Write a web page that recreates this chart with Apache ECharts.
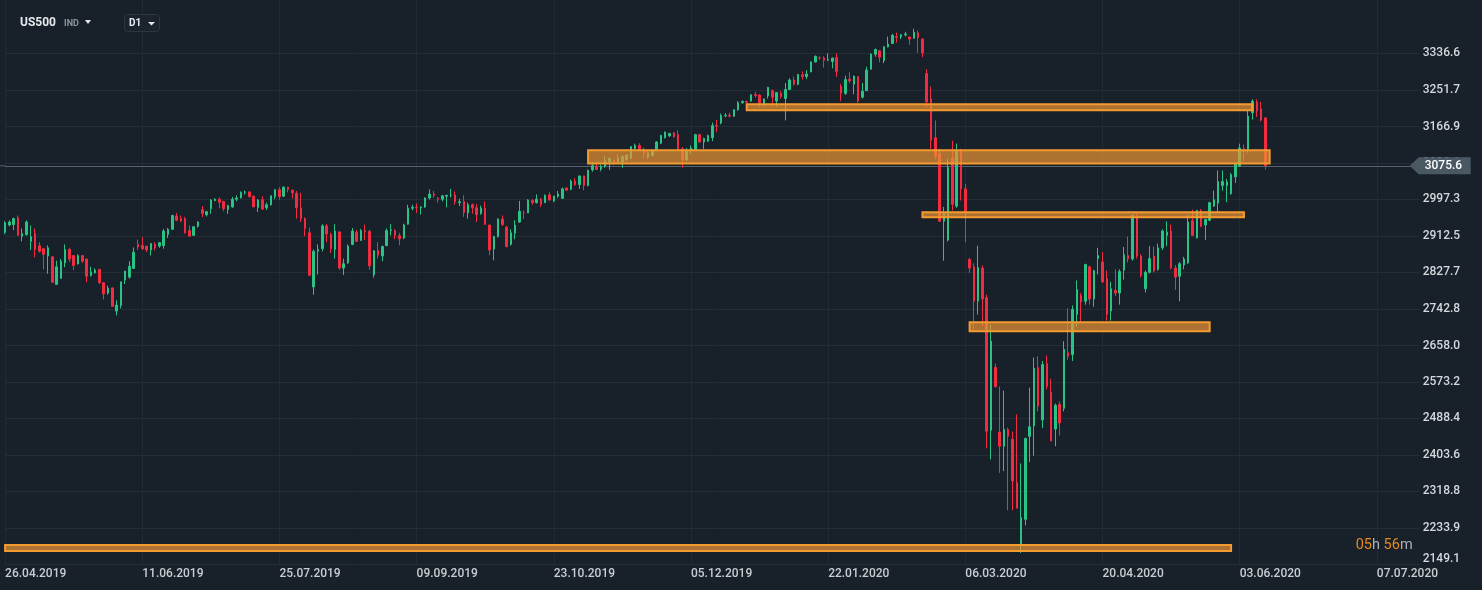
<!DOCTYPE html>
<html><head><meta charset="utf-8">
<script src="https://cdn.jsdelivr.net/npm/echarts@6/dist/echarts.min.js"></script>
<style>html,body{margin:0;padding:0;background:#18212a;}#c{width:1482px;height:590px;}</style>
</head><body><div id="c"></div>
<script>
// [date, open, close, low, high]
const bars = [
['26.04.2019',2921,2943,2917,2947],['29.04.2019',2938,2945,2935,2949],['30.04.2019',2939,2953,2926,2955],
['01.05.2019',2955,2914,2914,2960],['02.05.2019',2912,2918,2900,2930],['03.05.2019',2916,2945,2913,2949],
['06.05.2019',2900,2911,2880,2937],['07.05.2019',2918,2881,2863,2930],['08.05.2019',2890,2877,2874,2898],
['09.05.2019',2883,2870,2835,2883],['10.05.2019',2866,2885,2825,2891],['13.05.2019',2864,2805,2803,2866],
['14.05.2019',2800,2841,2800,2855],['15.05.2019',2814,2854,2814,2859],['16.05.2019',2850,2881,2840,2893],
['17.05.2019',2881,2859,2852,2885],['20.05.2019',2867,2844,2833,2867],['21.05.2019',2848,2867,2846,2870],
['22.05.2019',2867,2854,2850,2867],['23.05.2019',2859,2819,2805,2859],['24.05.2019',2821,2829,2818,2841],
['27.05.2019',2827,2833,2825,2837],['28.05.2019',2835,2804,2801,2835],['29.05.2019',2804,2778,2765,2804],
['30.05.2019',2780,2791,2776,2797],['31.05.2019',2792,2749,2749,2792],['03.06.2019',2738,2752,2728,2763],
['04.06.2019',2751,2806,2744,2806],['05.06.2019',2810,2831,2801,2831],['06.06.2019',2817,2842,2813,2854],
['07.06.2019',2837,2875,2837,2886],['10.06.2019',2893,2887,2880,2904],['11.06.2019',2890,2883,2880,2910],
['12.06.2019',2889,2880,2875,2889],['13.06.2019',2880,2895,2867,2895],['14.06.2019',2893,2885,2879,2898],
['17.06.2019',2889,2897,2885,2898],['18.06.2019',2890,2924,2883,2929],['19.06.2019',2916,2928,2908,2931],
['20.06.2019',2928,2960,2928,2962],['21.06.2019',2959,2949,2947,2966],['24.06.2019',2953,2947,2945,2960],
['25.06.2019',2953,2920,2918,2957],['26.06.2019',2925,2912,2912,2937],['27.06.2019',2914,2934,2913,2934],
['28.06.2019',2935,2945,2932,2947],['01.07.2019',2974,2965,2956,2982],['02.07.2019',2962,2969,2958,2971],
['03.07.2019',2976,2996,2964,2998],['04.07.2019',2995,2998,2993,3000],['05.07.2019',2998,2991,2977,3002],
['08.07.2019',2993,2976,2970,2993],['09.07.2019',2974,2983,2964,2985],['10.07.2019',2980,2998,2978,3003],
['11.07.2019',2998,3001,2993,3007],['12.07.2019',3001,3014,3000,3016],['15.07.2019',3014,3015,3009,3018],
['16.07.2019',3015,3004,3002,3016],['17.07.2019',3005,2980,2980,3006],['18.07.2019',2979,2996,2968,2998],
['19.07.2019',2997,2975,2973,3005],['22.07.2019',2978,2985,2973,2990],['23.07.2019',2985,3006,2983,3006],
['24.07.2019',3004,3020,2998,3021],['25.07.2019',3020,3004,2997,3026],['26.07.2019',3005,3026,3003,3028],
['29.07.2019',3026,3021,3014,3027],['30.07.2019',3019,3013,3000,3020],['31.07.2019',3012,2978,2953,3017],
['01.08.2019',2978,2953,2945,3013],['02.08.2019',2953,2930,2912,2956],['05.08.2019',2920,2821,2820,2932],
['06.08.2019',2794,2877,2776,2881],['07.08.2019',2877,2881,2823,2893],['08.08.2019',2883,2936,2877,2940],
['09.08.2019',2936,2917,2898,2940],['12.08.2019',2916,2883,2873,2920],['13.08.2019',2881,2924,2860,2940],
['14.08.2019',2922,2838,2834,2923],['15.08.2019',2838,2848,2822,2860],['16.08.2019',2850,2889,2848,2893],
['19.08.2019',2893,2924,2891,2931],['20.08.2019',2921,2900,2899,2927],['21.08.2019',2902,2925,2902,2929],
['22.08.2019',2925,2922,2903,2939],['23.08.2019',2923,2843,2834,2927],['26.08.2019',2822,2878,2816,2880],
['27.08.2019',2879,2868,2860,2898],['28.08.2019',2866,2888,2854,2890],['29.08.2019',2890,2925,2889,2930],
['30.08.2019',2925,2927,2914,2940],['02.09.2019',2925,2914,2905,2928],['03.09.2019',2913,2906,2891,2920],
['04.09.2019',2908,2938,2905,2941],['05.09.2019',2940,2977,2939,2985],['06.09.2019',2977,2979,2972,2985],
['09.09.2019',2979,2978,2966,2988],['10.09.2019',2978,2980,2962,2982],['11.09.2019',2980,3001,2978,3002],
['12.09.2019',3001,3010,2997,3021],['13.09.2019',3010,3007,3001,3017],['16.09.2019',3000,2998,2990,3003],
['17.09.2019',2998,3006,2993,3007],['18.09.2019',3005,3007,2979,3008],['19.09.2019',3007,3007,3002,3022],
['20.09.2019',3008,2992,2985,3016],['23.09.2019',2990,2992,2982,2999],['24.09.2019',2993,2967,2957,3007],
['25.09.2019',2966,2985,2953,2990],['26.09.2019',2985,2978,2964,2988],['27.09.2019',2978,2962,2945,2987],
['30.09.2019',2965,2977,2962,2983],['01.10.2019',2977,2940,2938,2993],['02.10.2019',2938,2880,2868,2938],
['03.10.2019',2882,2911,2856,2913],['04.10.2019',2911,2952,2909,2953],['07.10.2019',2952,2939,2936,2960],
['08.10.2019',2933,2888,2886,2936],['09.10.2019',2893,2920,2890,2928],['10.10.2019',2919,2938,2905,2949],
['11.10.2019',2945,2970,2943,2994],['14.10.2019',2966,2966,2952,2972],['15.10.2019',2966,2996,2966,2998],
['16.10.2019',2995,2990,2985,2998],['17.10.2019',2990,2998,2988,3009],['18.10.2019',2998,2986,2980,3001],
['21.10.2019',2990,3007,2989,3009],['22.10.2019',3008,2996,2995,3014],['23.10.2019',2994,3005,2991,3006],
['24.10.2019',3005,3010,3001,3017],['25.10.2019',3000,3022,2999,3025],['27.10.2019',3024,3019,3017,3026],
['28.10.2019',3021,3040,3019,3044],['29.10.2019',3040,3032,3029,3047],['30.10.2019',3032,3052,3022,3053],
['31.10.2019',3052,3030,3019,3053],['01.11.2019',3030,3065,3028,3067],['04.11.2019',3066,3076,3062,3084],
['05.11.2019',3075,3067,3066,3084],['06.11.2019',3068,3073,3063,3078],['07.11.2019',3075,3088,3071,3098],
['08.11.2019',3085,3093,3066,3093],['11.11.2019',3089,3084,3077,3089],['12.11.2019',3084,3093,3082,3102],
['13.11.2019',3085,3097,3071,3100],['14.11.2019',3090,3100,3087,3102],['15.11.2019',3093,3120,3092,3121],
['18.11.2019',3116,3123,3113,3127],['19.11.2019',3123,3114,3112,3128],['20.11.2019',3114,3104,3092,3118],
['21.11.2019',3096,3106,3092,3111],['22.11.2019',3100,3111,3098,3113],['25.11.2019',3114,3131,3112,3133],
['26.11.2019',3128,3146,3126,3148],['27.11.2019',3141,3154,3139,3155],['28.11.2019',3145,3151,3143,3151],
['29.11.2019',3152,3143,3141,3154],['02.12.2019',3148,3114,3112,3158],['03.12.2019',3115,3089,3071,3119],
['04.12.2019',3090,3111,3086,3117],['05.12.2019',3112,3117,3103,3123],['06.12.2019',3114,3148,3113,3150],
['09.12.2019',3148,3131,3129,3150],['10.12.2019',3131,3139,3115,3141],['11.12.2019',3133,3146,3131,3148],
['12.12.2019',3141,3169,3133,3176],['13.12.2019',3169,3168,3154,3182],['16.12.2019',3175,3192,3172,3197],
['17.12.2019',3192,3193,3188,3198],['18.12.2019',3193,3191,3188,3199],['19.12.2019',3191,3206,3189,3207],
['20.12.2019',3206,3222,3203,3226],['23.12.2019',3222,3225,3220,3228],['24.12.2019',3225,3223,3221,3227],
['26.12.2019',3226,3241,3225,3241],['27.12.2019',3241,3239,3234,3248],['30.12.2019',3240,3221,3212,3242],
['31.12.2019',3218,3231,3213,3232],['02.01.2020',3238,3258,3232,3259],['03.01.2020',3250,3235,3212,3253],
['06.01.2020',3226,3246,3213,3247],['07.01.2020',3244,3237,3232,3249],['08.01.2020',3232,3253,3181,3268],
['09.01.2020',3253,3275,3252,3279],['10.01.2020',3275,3265,3262,3283],['13.01.2020',3265,3288,3263,3289],
['14.01.2020',3287,3283,3276,3295],['15.01.2020',3283,3289,3277,3298],['16.01.2020',3294,3317,3293,3318],
['17.01.2020',3317,3330,3316,3332],['20.01.2020',3326,3326,3322,3330],['21.01.2020',3326,3321,3304,3330],
['22.01.2020',3321,3322,3319,3337],['23.01.2020',3318,3326,3302,3327],['24.01.2020',3327,3295,3282,3337],
['27.01.2020',3260,3244,3226,3266],['28.01.2020',3244,3276,3240,3285],['29.01.2020',3277,3273,3268,3293],
['30.01.2020',3265,3284,3242,3285],['31.01.2020',3283,3226,3222,3283],['03.02.2020',3235,3249,3232,3268],
['04.02.2020',3250,3298,3250,3306],['05.02.2020',3300,3335,3300,3337],['06.02.2020',3335,3346,3329,3348],
['07.02.2020',3343,3328,3316,3344],['10.02.2020',3320,3352,3314,3353],['11.02.2020',3352,3358,3351,3376],
['12.02.2020',3360,3379,3359,3382],['13.02.2020',3376,3374,3362,3385],['14.02.2020',3375,3380,3370,3382],
['17.02.2020',3380,3382,3376,3387],['18.02.2020',3375,3370,3357,3375],['19.02.2020',3372,3386,3371,3394],
['20.02.2020',3385,3373,3338,3390],['21.02.2020',3370,3338,3328,3372],['24.02.2020',3290,3224,3212,3300],
['25.02.2020',3231,3135,3115,3260],['26.02.2020',3141,3098,3090,3181],['27.02.2020',3104,2947,2945,3115],
['28.02.2020',2947,2965,2855,2980],['02.03.2020',2903,3072,2900,3093],['03.03.2020',3094,2986,2972,3134],
['04.03.2020',2982,3112,2978,3127],['05.03.2020',3112,3022,2995,3115],['06.03.2020',3022,2966,2898,3034],
['08.03.2020',2858,2838,2827,2862],['09.03.2020',2841,2761,2695,2849],['10.03.2020',2761,2839,2730,2890],
['11.03.2020',2838,2766,2703,2844],['12.03.2020',2769,2459,2419,2776],['13.03.2020',2461,2668,2393,2707],
['15.03.2020',2607,2563,2560,2616],['16.03.2020',2457,2424,2362,2563],['17.03.2020',2424,2463,2366,2553],
['18.03.2020',2463,2447,2275,2467],['19.03.2020',2440,2343,2275,2458],['20.03.2020',2339,2280,2280,2498],
['23.03.2020',2196,2258,2176,2384],['24.03.2020',2254,2442,2240,2444],['25.03.2020',2447,2469,2387,2560],
['26.03.2020',2471,2605,2402,2630],['27.03.2020',2607,2517,2505,2633],['30.03.2020',2485,2614,2466,2622],
['31.03.2020',2616,2563,2556,2635],['01.04.2020',2549,2436,2436,2581],['02.04.2020',2464,2519,2424,2523],
['03.04.2020',2521,2478,2449,2528],['06.04.2020',2512,2649,2505,2668],['07.04.2020',2641,2633,2625,2745],
['08.04.2020',2637,2742,2622,2751],['09.04.2020',2730,2788,2701,2809],['13.04.2020',2774,2759,2712,2780],
['14.04.2020',2761,2846,2753,2848],['15.04.2020',2841,2766,2753,2843],['16.04.2020',2766,2832,2748,2834],
['17.04.2020',2860,2867,2823,2885],['20.04.2020',2852,2806,2803,2875],['21.04.2020',2814,2730,2716,2832],
['22.04.2020',2738,2790,2716,2806],['23.04.2020',2786,2780,2773,2835],['24.04.2020',2780,2830,2753,2835],
['27.04.2020',2833,2869,2811,2887],['28.04.2020',2867,2859,2851,2911],['29.04.2020',2859,2960,2855,2962],
['30.04.2020',2955,2866,2860,2965],['01.05.2020',2866,2821,2816,2870],['04.05.2020',2790,2828,2781,2832],
['05.05.2020',2828,2860,2825,2889],['06.05.2020',2866,2831,2828,2888],['07.05.2020',2835,2885,2832,2895],
['08.05.2020',2885,2924,2880,2928],['11.05.2020',2914,2921,2889,2946],['12.05.2020',2924,2838,2835,2939],
['13.05.2020',2838,2817,2787,2845],['14.05.2020',2819,2848,2761,2852],['15.05.2020',2845,2859,2835,2864],
['18.05.2020',2850,2945,2848,2962],['19.05.2020',2948,2914,2912,2974],['20.05.2020',2908,2972,2907,2973],
['21.05.2020',2972,2935,2933,2975],['22.05.2020',2938,2951,2903,2951],['25.05.2020',2949,2990,2947,2992],
['26.05.2020',2982,2997,2980,3018],['27.05.2020',2989,3039,2966,3065],['28.05.2020',3030,3039,3018,3065],
['29.05.2020',3030,3038,2991,3045],['01.06.2020',3011,3055,3008,3059],['02.06.2020',3050,3079,3036,3083],
['03.06.2020',3075,3117,3073,3127],['04.06.2020',3115,3110,3086,3125],['05.06.2020',3114,3191,3106,3205],
['08.06.2020',3199,3226,3183,3230],['09.06.2020',3224,3203,3189,3230],['10.06.2020',3208,3182,3179,3224],
['11.06.2020',3187,3075.6,3067,3187]
];

const futureDates = [
'12.06.2020','13.06.2020','14.06.2020','15.06.2020','16.06.2020','17.06.2020','18.06.2020','19.06.2020',
'20.06.2020','21.06.2020','22.06.2020','23.06.2020','24.06.2020','25.06.2020','26.06.2020','27.06.2020',
'28.06.2020','29.06.2020','30.06.2020','01.07.2020','02.07.2020','03.07.2020','04.07.2020','05.07.2020',
'06.07.2020','07.07.2020','08.07.2020','09.07.2020','10.07.2020','11.07.2020','12.07.2020','13.07.2020',
'14.07.2020','15.07.2020','16.07.2020','17.07.2020'
];

const xTickLabels = ['26.04.2019','11.06.2019','25.07.2019','09.09.2019','23.10.2019','05.12.2019',
  '22.01.2020','06.03.2020','20.04.2020','03.06.2020','07.07.2020'];

const yTicks = [2149.1,2233.9,2318.8,2403.6,2488.4,2573.2,2658.0,2742.8,2827.7,2912.5,2997.3,3082.1,3166.9,3251.7,3336.6];

// support / resistance zones: [from, to, low, high]
const zoneFrom = ['01.11.2019','24.12.2019','21.02.2020','08.03.2020','26.04.2019'];
const zoneTo   = ['12.06.2020','08.06.2020','04.06.2020','25.05.2020','01.06.2020'];
const zoneLow  = [3081, 3204.5, 2956, 2691, 2180.5];
const zoneHigh = [3112, 3218.5, 2967.5, 2712, 2194.5];

const lastPrice = 3075.6;
const countdownHours = '05';
const countdownMinutes = '56';

const GREEN = '#2ac385', RED = '#f22c40';
const categories = bars.map(b => b[0]).concat(futureDates);
const ohlc = bars.map(b => [b[1], b[2], b[3], b[4]]);
const tickSet = new Set(xTickLabels);
const showTick = (i, v) => tickSet.has(v);

const chart = echarts.init(document.getElementById('c'));
chart.setOption({
  backgroundColor: '#18212a',
  animation: false,
  textStyle: { fontFamily: 'Roboto' },
  grid: { left: 5.1, right: 62.3, top: 0, bottom: 25.5, containLabel: false, outerBoundsMode: 'none' },
  xAxis: {
    type: 'category', data: categories, boundaryGap: false,
    axisLine: { lineStyle: { color: '#252f38' } },
    axisTick: { show: false },
    axisLabel: { interval: showTick, align: 'left', margin: 3, color: '#c9cdd1', fontSize: 12, fontWeight: 500, fontFamily: 'Roboto', hideOverlap: false },
    splitLine: { show: true, interval: showTick, lineStyle: { color: '#222b34', width: 1 } }
  },
  yAxis: {
    type: 'value', position: 'right', min: 2149.1, max: 3460.9, scale: true,
    axisLine: { show: false }, axisTick: { show: false }, axisLabel: { show: false }, splitLine: { show: false }
  },
  series: [{
    type: 'candlestick', data: ohlc, barWidth: 2, clip: false,
    itemStyle: { color: GREEN, color0: RED, borderColor: GREEN, borderColor0: RED, borderWidth: 1 },
    markLine: {
      silent: true, symbol: ['none', 'none'], z: 1, animation: false, precision: 1,
      lineStyle: { color: '#232d36', width: 1, type: 'solid' },
      label: { position: 'end', distance: 3, color: '#d4d8dc', fontFamily: 'Roboto', fontSize: 12, fontWeight: 500,
               formatter: p => Number(p.value).toFixed(1) },
      emphasis: { disabled: true },
      data: yTicks.map((v, i) => i === 0 ? { yAxis: v, label: { verticalAlign: 'bottom' } } : { yAxis: v })
        .concat([{ yAxis: lastPrice, lineStyle: { color: '#56626d' }, label: { show: false } }])
    },
    markArea: {
      silent: true, z: 10,
      itemStyle: { color: 'rgba(236,150,52,0.70)', borderColor: '#f39b2f', borderWidth: 2 },
      emphasis: { disabled: true },
      data: zoneFrom.map((f, i) => [{ xAxis: f, yAxis: zoneHigh[i] }, { xAxis: zoneTo[i], yAxis: zoneLow[i] }])
    }
  }]
});

const yP = chart.convertToPixel({ yAxisIndex: 0 }, lastPrice);
const xR = chart.convertToPixel({ xAxisIndex: 0 }, categories[categories.length - 1]);
const xL = chart.convertToPixel({ xAxisIndex: 0 }, categories[0]);
chart.setOption({
  graphic: [
    { type: 'line', z: 1, shape: { x1: 0, y1: yP, x2: xL, y2: yP }, style: { stroke: '#56626d', lineWidth: 1 } },
    { type: 'polygon', z: 100, shape: { points: [[xR - 10, yP], [xR - 1, yP - 8.5], [xR + 51, yP - 8.5], [xR + 51, yP + 8.5], [xR - 1, yP + 8.5]] }, style: { fill: '#4a5864' } },
    { type: 'text', z: 101, x: xR + 5, y: yP, style: { text: lastPrice.toFixed(1), fill: '#ffffff', font: '500 12px Roboto', verticalAlign: 'middle', align: 'left' } },
    { type: 'text', z: 101, x: xR - 64, y: 545, style: { rich: { o: { fill: '#e8891e', font: '14.5px Roboto' }, g: { fill: '#a9b0b6', font: '14.5px Roboto' } },
        text: '{o|' + countdownHours + '}{g|h }{o|' + countdownMinutes + '}{g|m}', verticalAlign: 'middle', align: 'left' } },
    { type: 'text', z: 101, left: 20, top: 17, style: { text: 'US500', fill: '#e6e9ec', font: 'bold 12px Roboto' } },
    { type: 'text', z: 101, left: 64, top: 19.5, style: { text: 'IND', fill: '#8b949c', font: 'bold 9px Roboto' } },
    { type: 'polygon', z: 101, shape: { points: [[85, 20], [91, 20], [88, 24]] }, style: { fill: '#e6e9ec' } },
    { type: 'rect', z: 100, shape: { x: 124.5, y: 14.5, width: 35, height: 17, r: 3 }, style: { fill: '#1b242d', stroke: '#2b3640', lineWidth: 1 } },
    { type: 'text', z: 101, left: 129, top: 18, style: { text: 'D1', fill: '#e6e9ec', font: 'bold 10px Roboto' } },
    { type: 'polygon', z: 101, shape: { points: [[148, 22], [155, 22], [151.5, 25.5]] }, style: { fill: '#e6e9ec' } }
  ]
});
</script></body></html>
